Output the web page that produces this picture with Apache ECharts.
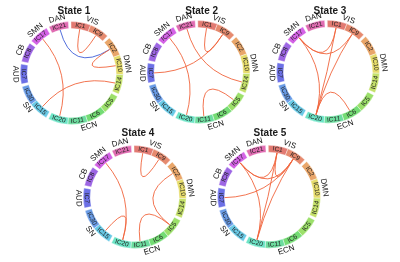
<!DOCTYPE html>
<html><head><meta charset="utf-8">
<script src="https://cdn.jsdelivr.net/npm/echarts@6/dist/echarts.min.js"></script>
<style>html,body{margin:0;padding:0;background:#fff}#c{width:400px;height:262px}</style>
</head><body><div id="c"></div><script>
// ---- data ----
const nodes = ['IC1','IC9','IC2','IC10','IC14','IC5','IC6','IC11','IC20','IC15','IC30','IC7','IC8','IC17','IC21'];
const nodeGroups = ['VIS','VIS','DMN','DMN','DMN','ECN','ECN','ECN','ECN','SN','SN','AUD','CB','SMN','DAN'];
const groups = ['VIS','DMN','ECN','SN','AUD','CB','SMN','DAN'];
const states = ['State 1','State 2','State 3','State 4','State 5'];
// links: [from, to, sign(+1 positive / -1 negative)]
const links1 = [['IC1','IC9',1],['IC21','IC2',-1],['IC2','IC10',1],['IC17','IC20',1],['IC14','IC15',1]];
const links2 = [['IC1','IC9',1],['IC9','IC7',1],['IC21','IC14',1],['IC17','IC20',1],['IC5','IC11',1]];
const links3 = [['IC1','IC17',1],['IC9','IC17',1],['IC1','IC20',1],['IC9','IC20',1],['IC17','IC20',1],['IC20','IC6',1]];
const links4 = [['IC1','IC9',1],['IC2','IC5',1],['IC5','IC11',1],['IC17','IC20',1],['IC15','IC20',1]];
const links5 = [['IC1','IC9',1],['IC1','IC17',1],['IC9','IC17',1],['IC1','IC20',1],['IC9','IC20',1],['IC17','IC20',1],['IC9','IC7',1]];
const allLinks = [links1, links2, links3, links4, links5];

// ---- style / layout ----
const nodeColors = ['#e27a72','#e68a6e','#e9a66a','#e6dc6c','#c4e06a','#9ce06a','#74dc74','#6cdc9e','#6ce4c6','#6acae6','#6a9ce6','#6c70e6','#9d66e4','#d462e6','#e06cb2'];
const POS = '#f0643c', NEG = '#3f5fd8';
const NODE_SPAN = 22.4, GAP_SPAN = 3.0, START_ANGLE = 90.8;
const R_IN = 0.865, R_LABEL = 0.932, R_GROUP = 1.09;
const OUTER = 51.5;
const centers = [[71.7,73],[198.5,72],[328,71.7],[134.7,197],[269,196.7]];
const titlePos = [[74,11.7],[201.7,11.7],[330,11.7],[138,133.5],[270,133.5]];
const FONT = '"Liberation Sans", Arial, sans-serif';

// angular layout derived from node order and groups
const nodeStart = []; let pos = 0;
nodes.forEach((n, i) => {
  if (i > 0 && nodeGroups[i] !== nodeGroups[i-1]) pos += GAP_SPAN;
  nodeStart.push(pos); pos += NODE_SPAN;
});
const nodeMid = n => { const i = nodes.indexOf(n); return nodeStart[i] + NODE_SPAN / 2; };
const groupMid = groups.map(g => {
  const idx = nodes.map((n, i) => i).filter(i => nodeGroups[i] === g);
  return (nodeStart[idx[0]] + nodeStart[idx[idx.length-1]] + NODE_SPAN) / 2;
});

function tangentRot(p, cs) {
  let th = Math.atan2(p[1] - cs.cy, p[0] - cs.cx) + Math.PI / 2;
  while (th > Math.PI) th -= 2 * Math.PI;
  while (th <= -Math.PI) th += 2 * Math.PI;
  if (th > Math.PI / 2) th -= Math.PI; else if (th < -Math.PI / 2) th += Math.PI;
  return -th;
}
function angOf(p, cs) { return Math.atan2(p[1] - cs.cy, p[0] - cs.cx); }
function radOf(p, cs) { return Math.hypot(p[0] - cs.cx, p[1] - cs.cy); }

const polar = [], angleAxis = [], radiusAxis = [], series = [], graphic = [];
states.forEach((st, k) => {
  polar.push({ center: centers[k], radius: OUTER });
  angleAxis.push({ polarIndex: k, type: 'value', min: 0, max: 360, startAngle: START_ANGLE, clockwise: true, show: false,
    axisLine: {show:false}, axisTick: {show:false}, axisLabel: {show:false}, splitLine: {show:false} });
  radiusAxis.push({ polarIndex: k, type: 'value', min: 0, max: 1, show: false,
    axisLine: {show:false}, axisTick: {show:false}, axisLabel: {show:false}, splitLine: {show:false} });
  graphic.push({ type: 'text', x: titlePos[k][0], y: titlePos[k][1], silent: true,
    style: { text: st, fill: '#1a1a1a', font: 'bold 10px ' + FONT, align: 'center', verticalAlign: 'middle' } });
  // ring segments
  series.push({
    type: 'custom', coordinateSystem: 'polar', polarIndex: k, silent: true,
    data: nodes.map((n, i) => [nodeStart[i], nodeStart[i] + NODE_SPAN, i]),
    renderItem: (params, api) => {
      const cs = params.coordSys;
      const s = api.value(0), e = api.value(1), idx = api.value(2);
      const ps = api.coord([1, s]), pe = api.coord([1, e]), pin = api.coord([R_IN, s]);
      let a0 = angOf(ps, cs), a1 = angOf(pe, cs);
      if (a1 < a0) a1 += 2 * Math.PI;
      const pm = api.coord([R_LABEL, (s + e) / 2]);
      return { type: 'group', children: [
        { type: 'sector', shape: { cx: cs.cx, cy: cs.cy, r0: radOf(pin, cs), r: radOf(ps, cs), startAngle: a0, endAngle: a1, clockwise: true },
          style: { fill: nodeColors[idx], stroke: '#fff', lineWidth: 0.4 } },
        { type: 'text', x: pm[0], y: pm[1], rotation: tangentRot(pm, cs),
          style: { text: nodes[idx], fill: '#222', font: '6.5px ' + FONT, align: 'center', verticalAlign: 'middle' } }
      ]};
    }
  });
  // group labels
  series.push({
    type: 'custom', coordinateSystem: 'polar', polarIndex: k, silent: true,
    data: groups.map((g, i) => [groupMid[i], i]),
    renderItem: (params, api) => {
      const cs = params.coordSys;
      const p = api.coord([R_GROUP, api.value(0)]);
      return { type: 'text', x: p[0], y: p[1], rotation: tangentRot(p, cs),
        style: { text: groups[api.value(1)], fill: '#111', font: '8px ' + FONT, align: 'center', verticalAlign: 'middle' } };
    }
  });
  // links
  series.push({
    type: 'custom', coordinateSystem: 'polar', polarIndex: k, silent: true,
    data: allLinks[k].map(l => [nodeMid(l[0]), nodeMid(l[1]), l[2]]),
    renderItem: (params, api) => {
      const cs = params.coordSys;
      const p0 = api.coord([R_IN, api.value(0)]), p1 = api.coord([R_IN, api.value(1)]);
      return { type: 'bezierCurve',
        shape: { x1: p0[0], y1: p0[1], x2: p1[0], y2: p1[1], cpx1: cs.cx, cpy1: cs.cy },
        style: { stroke: api.value(2) > 0 ? POS : NEG, fill: null, lineWidth: 0.9 } };
    }
  });
});

const chart = echarts.init(document.getElementById('c'), null, { renderer: 'canvas' });
chart.setOption({ animation: false, graphic, polar, angleAxis, radiusAxis, series });
</script></body></html>
